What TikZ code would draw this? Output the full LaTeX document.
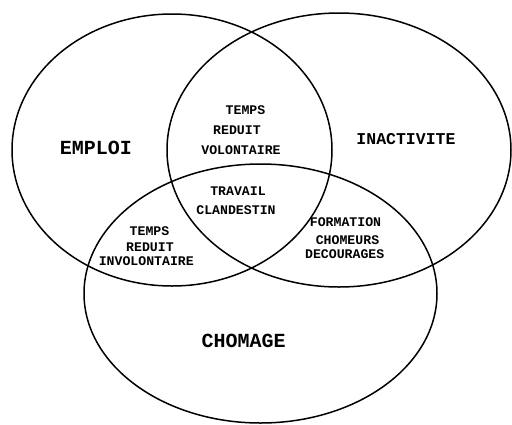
\documentclass[tikz,border=0pt]{standalone}
\usepackage{fontspec}
\setmainfont{Liberation Mono}
\begin{document}
\begin{tikzpicture}[x=1pt,y=-1pt,
  set/.style={line width=1.5pt},
  big/.style={font=\fontsize{20}{22}\selectfont\bfseries, inner sep=0pt, text height=13pt, text depth=0pt},
  mid/.style={font=\fontsize{16.5}{19}\selectfont\bfseries, inner sep=0pt, text height=11pt, text depth=0pt},
  small/.style={font=\fontsize{13.2}{15}\selectfont\bfseries, inner sep=0pt, text height=8.7pt, text depth=0pt}]
\useasboundingbox (0,0) rectangle (512,424);
\draw[set] (172,150) ellipse [x radius=160, y radius=136];
\draw[set] (339,150) ellipse [x radius=172, y radius=137];
\draw[set] (260.5,293.5) ellipse [x radius=176.5, y radius=129.5];
\node[big] (emploi) at (96,148) {EMPLOI};
\node[mid] (inact) at (406,139) {INACTIVITE};
\node[big] (chom) at (243.7,340.7) {CHOMAGE};
\node[small] (tv1) at (245.5,110) {TEMPS};
\node[small] (tv2) at (237,130) {REDUIT};
\node[small] (tv3) at (241,150) {VOLONTAIRE};
\node[small] (tc1) at (238,191) {TRAVAIL};
\node[small] (tc2) at (236,210) {CLANDESTIN};
\node[small] (fc1) at (345.5,222.5) {FORMATION};
\node[small] (fc2) at (347.5,240.3) {CHOMEURS};
\node[small] (fc3) at (344.7,253.7) {DECOURAGES};
\node[small] (ti1) at (149.5,231.5) {TEMPS};
\node[small] (ti2) at (150,247.3) {REDUIT};
\node[small] (ti3) at (146.3,261) {INVOLONTAIRE};
\end{tikzpicture}
\end{document}
